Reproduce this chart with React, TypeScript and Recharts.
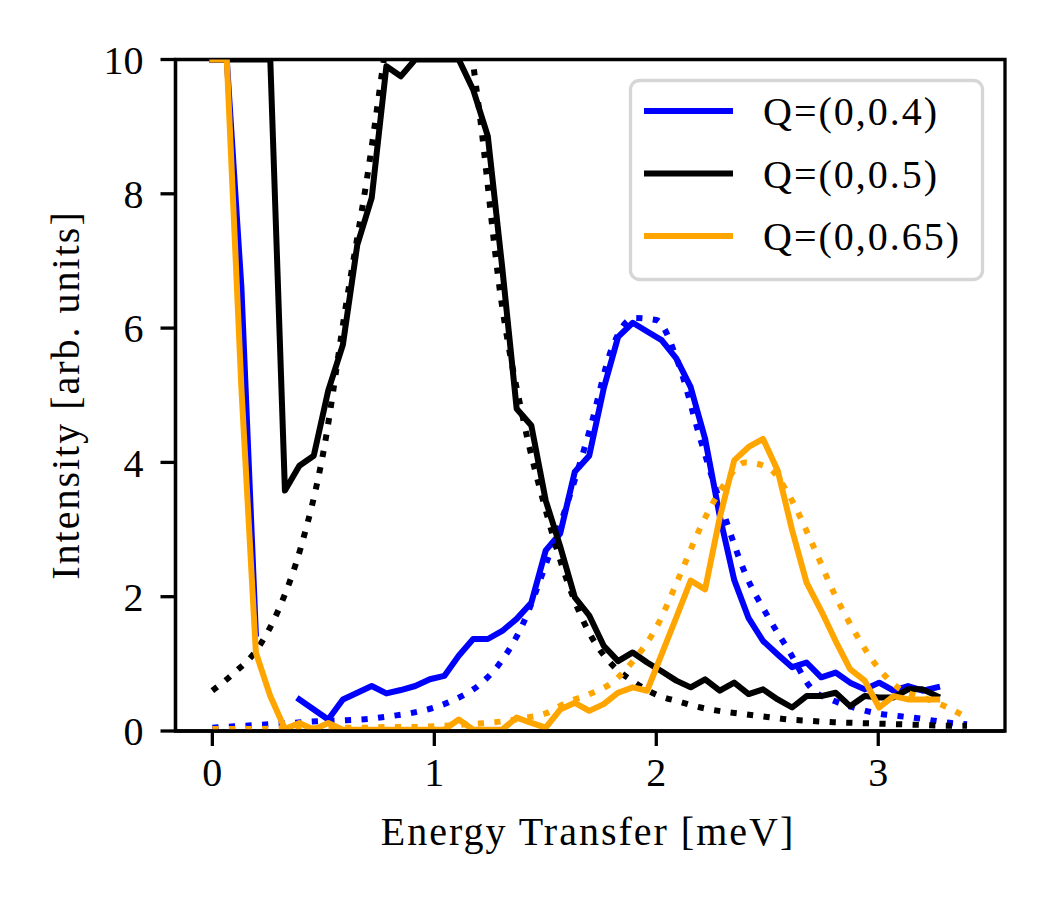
import React from 'react'
import { LineChart, Line, XAxis, YAxis, Legend, Label, ReferenceArea } from 'recharts'

// measured energies (meV), binned data
const energy = [
  0.0, 0.065, 0.131, 0.196, 0.261, 0.327, 0.392, 0.457, 0.522, 0.588,
  0.653, 0.718, 0.784, 0.849, 0.914, 0.98, 1.045, 1.11, 1.175, 1.241,
  1.306, 1.371, 1.437, 1.502, 1.567, 1.633, 1.698, 1.763, 1.828, 1.894,
  1.959, 2.024, 2.09, 2.155, 2.22, 2.286, 2.351, 2.416, 2.481, 2.547,
  2.612, 2.677, 2.743, 2.808, 2.873, 2.939, 3.004, 3.069, 3.134, 3.2, 3.265,
]

const q04 = [
  10, 10, 6.6, 1.45, null, null, 0.47, 0.32, 0.17, 0.47,
  0.57, 0.67, 0.56, 0.61, 0.67, 0.77, 0.82, 1.12, 1.37, 1.37,
  1.49, 1.67, 1.91, 2.69, 2.94, 3.86, 4.1, 5.1, 5.87, 6.08,
  5.95, 5.82, 5.55, 5.12, 4.35, 3.2, 2.25, 1.68, 1.34, 1.14,
  0.95, 1.02, 0.8, 0.87, 0.72, 0.62, 0.72, 0.6, 0.67, 0.6, 0.65,
]

const q05 = [
  10, 10, 10, 10, 10, 3.58, 3.95, 4.1, 5.07, 5.75,
  7.24, 7.94, 9.9, 9.75, 10, 10, 10, 10, 9.55, 8.86,
  6.9, 4.8, 4.55, 3.43, 2.75, 1.99, 1.72, 1.27, 1.04, 1.17,
  1.02, 0.89, 0.75, 0.65, 0.77, 0.6, 0.72, 0.55, 0.62, 0.47,
  0.35, 0.52, 0.52, 0.57, 0.37, 0.52, 0.5, 0.5, 0.62, 0.62, 0.52,
]

const q065 = [
  10, 10, 5.1, 1.17, 0.52, 0.03, 0.12, 0.02, 0.12, 0.02,
  0.02, 0.02, 0.02, 0.02, 0.02, 0.02, 0.02, 0.17, 0.02, 0.02,
  0.02, 0.2, 0.12, 0.05, 0.32, 0.42, 0.3, 0.4, 0.57, 0.65,
  0.6, 1.14, 1.69, 2.24, 2.11, 3.18, 4.03, 4.23, 4.35, 3.88,
  2.99, 2.21, 1.79, 1.34, 0.92, 0.75, 0.35, 0.52, 0.47, 0.47, 0.47,
]

// fitted curves
const fitEnergy = [
  0.0, 0.1, 0.2, 0.3, 0.4, 0.5, 0.6, 0.7, 0.8, 0.9,
  1.0, 1.1, 1.2, 1.3, 1.4, 1.5, 1.6, 1.7, 1.8, 1.9,
  2.0, 2.1, 2.2, 2.3, 2.4, 2.5, 2.6, 2.7, 2.8, 2.9,
  3.0, 3.1, 3.2, 3.3, 3.4,
]

const fit04 = [
  0.05, 0.07, 0.09, 0.11, 0.13, 0.15, 0.16, 0.18, 0.22, 0.27,
  0.35, 0.48, 0.68, 1.03, 1.6, 2.46, 3.4, 4.48, 5.7, 6.15,
  6.12, 5.47, 4.33, 3.28, 2.35, 1.72, 1.18, 0.63, 0.45, 0.34,
  0.26, 0.22, 0.18, 0.13, 0.1,
]

const fit05 = [
  0.6, 0.87, 1.21, 1.82, 2.75, 4.15, 6.3, 8.3, 10.6, 12.4,
  13.0, 11.6, 9.3, 6.45, 4.65, 3.31, 2.22, 1.45, 0.99, 0.73,
  0.54, 0.44, 0.35, 0.29, 0.25, 0.21, 0.17, 0.15, 0.13, 0.12,
  0.11, 0.1, 0.09, 0.08, 0.08,
]

const fit065 = [
  0.03, 0.03, 0.03, 0.04, 0.04, 0.04, 0.05, 0.05, 0.06, 0.06,
  0.07, 0.09, 0.11, 0.14, 0.19, 0.26, 0.43, 0.55, 0.72, 1.06,
  1.54, 2.27, 3.04, 3.64, 4.0, 3.93, 3.5, 2.81, 2.06, 1.44,
  0.94, 0.62, 0.5, 0.37, 0.2,
]

const xTicks = [0, 1, 2, 3]
const yTicks = [0, 2, 4, 6, 8, 10]
const xDomain = [-0.166, 3.571]
const yDomain = [0, 10]

const series = [
  { label: 'Q=(0,0.4)', color: '#0000ff', data: q04, fit: fit04 },
  { label: 'Q=(0,0.5)', color: '#000000', data: q05, fit: fit05 },
  { label: 'Q=(0,0.65)', color: '#ffa500', data: q065, fit: fit065 },
]

const FONT = '"Liberation Serif", "DejaVu Serif", serif'
const LW = 6
const SPINE = 3.3

const toRows = (xs: number[], ys: (number | null)[]) =>
  xs.map((x, i) => ({ x, y: ys[i] }))

function LegendBox() {
  return (
    <svg width={356} height={203} style={{ overflow: 'visible' }}>
      <rect x={1.5} y={1.5} width={352} height={199} rx={9} ry={9}
        fill="rgba(255,255,255,0.8)" stroke="#d6d6d6" strokeWidth={3.3} />
      {series.map((s, i) => (
        <g key={s.label}>
          <line x1={15} x2={104} y1={32 + i * 62.5} y2={32 + i * 62.5}
            stroke={s.color} strokeWidth={LW} />
          <text x={134} y={32 + i * 62.5} dy="0.35em" fontFamily={FONT}
            fontSize={40} letterSpacing={2} fill="#000">{s.label}</text>
        </g>
      ))}
    </svg>
  )
}

export default function App() {
  const tickStyle = { fontFamily: FONT, fontSize: 40, fill: '#000' }
  return (
    <div style={{ position: 'absolute', left: 0, top: 0, width: 1050, height: 900, background: '#fff' }}>
      <LineChart width={1050} height={900}
        margin={{ top: 59.5, right: 45, bottom: 54, left: 75.5 }}>
        <XAxis type="number" dataKey="x" domain={xDomain}
          ticks={xTicks} allowDataOverflow height={115}
          axisLine={{ stroke: '#000', strokeWidth: SPINE }}
          tickLine={{ stroke: '#000', strokeWidth: SPINE }}
          tickSize={15} tickMargin={12} tick={tickStyle}>
          <Label content={() => (
            <text x={588} y={845} textAnchor="middle" fontFamily={FONT}
              fontSize={40} letterSpacing={2} fill="#000">Energy Transfer [meV]</text>
          )} />
        </XAxis>
        <YAxis type="number" domain={yDomain} ticks={yTicks}
          allowDataOverflow width={100}
          axisLine={{ stroke: '#000', strokeWidth: SPINE }}
          tickLine={{ stroke: '#000', strokeWidth: SPINE }}
          tickSize={15} tickMargin={17} tick={tickStyle}>
          <Label content={() => (
            <text x={79} y={395} textAnchor="middle" transform="rotate(-90 79 395)"
              fontFamily={FONT} fontSize={40} letterSpacing={2} fill="#000">
              Intensity [arb. units]
            </text>
          )} />
        </YAxis>
        {series.map((s) => [
          <Line key={s.label} data={toRows(energy, s.data)}
            dataKey="y" type="linear" stroke={s.color} strokeWidth={LW}
            strokeLinecap="square" strokeLinejoin="round" dot={false}
            activeDot={false} isAnimationActive={false} name={s.label} />,
          <Line key={s.label + '-fit'}
            data={toRows(fitEnergy, s.fit)} dataKey="y" type="monotone"
            stroke={s.color} strokeWidth={LW} strokeDasharray="6.2 10.4"
            strokeLinecap="butt" dot={false} activeDot={false}
            isAnimationActive={false} legendType="none" />,
        ])}
        <ReferenceArea x1={xDomain[0]} x2={xDomain[1]} y1={yDomain[0]} y2={yDomain[1]}
          fill="none" fillOpacity={0} stroke="#000" strokeWidth={SPINE} ifOverflow="visible" />
        <Legend layout="horizontal" verticalAlign="middle" align="center"
          content={() => <LegendBox />}
          wrapperStyle={{ position: 'absolute', left: 629, top: 78.5, width: 356, height: 203 }} />
      </LineChart>
    </div>
  )
}
